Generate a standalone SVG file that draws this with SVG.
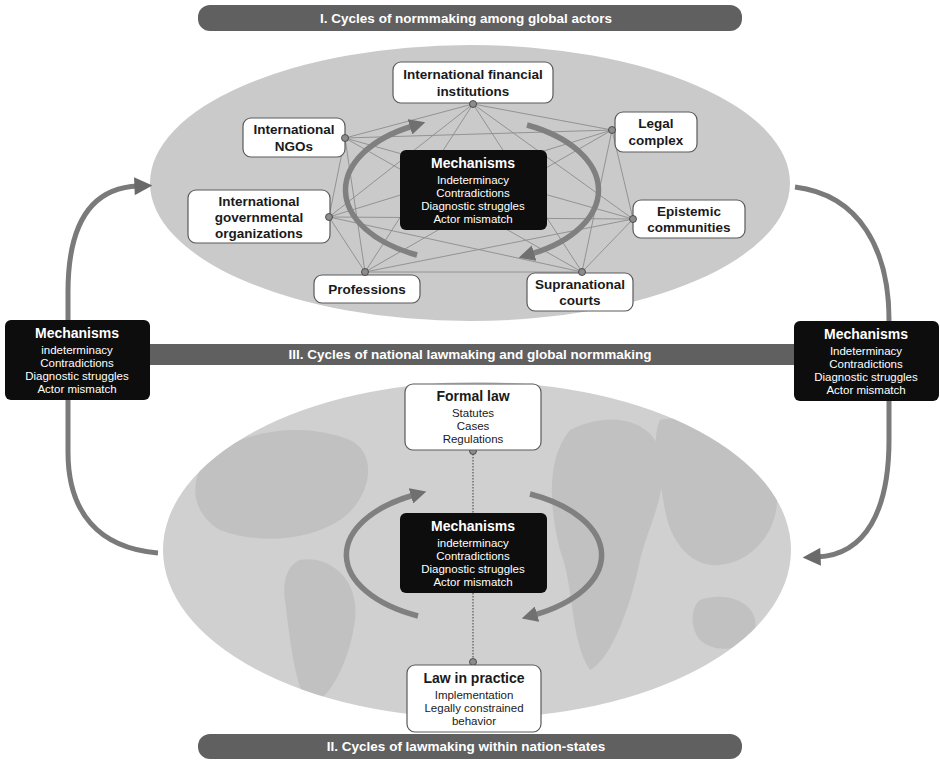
<svg xmlns="http://www.w3.org/2000/svg" width="940" height="764" viewBox="0 0 940 764">
<defs>
<style>
.t{font-family:"Liberation Sans",Arial,sans-serif;text-anchor:middle}
.nt{font-size:13.5px;font-weight:700;fill:#1a1a1a}
.ns{font-size:11.5px;fill:#1a1a1a}
.mt{font-size:14px;font-weight:700;fill:#fff}
.ms{font-size:11.5px;fill:#fff}
.bt{font-size:13.5px;font-weight:700;fill:#fff}
.box{fill:#fff;stroke:#5a5a5a;stroke-width:1.2}
.mech{fill:#0d0d0d}
.net line{stroke:#8c8c8c;stroke-width:0.9}
.ring{fill:none;stroke:#808080;stroke-width:5.5}
.big{fill:none;stroke:#7a7a7a;stroke-width:5}
.dot{fill:#8c8c8c;stroke:#3a3a3a;stroke-width:0.8}
.dash{stroke:#555;stroke-width:1.2;stroke-dasharray:1.5 1.5}
.ban{fill:#606060}
</style>
<marker id="ah" viewBox="0 0 10 10" refX="2" refY="5" markerWidth="16" markerHeight="16" markerUnits="userSpaceOnUse" orient="auto"><path d="M0,0 L10,5 L0,10 z" fill="#707070"/></marker>
<marker id="ahb" viewBox="0 0 10 10" refX="2" refY="5" markerWidth="20" markerHeight="18" markerUnits="userSpaceOnUse" orient="auto"><path d="M0,0 L10,5 L0,10 z" fill="#6a6a6a"/></marker>
<clipPath id="cb"><ellipse cx="477" cy="550" rx="314" ry="168"/></clipPath>
</defs>

<!-- backgrounds -->
<ellipse id="globalEllipse" cx="470" cy="183" rx="320" ry="138" fill="#cacaca"/>
<g id="nationalEllipse">
<ellipse cx="477" cy="550" rx="314" ry="168" fill="#d0d0d0"/>
<g clip-path="url(#cb)" fill="#b0b0b0" opacity="0.45">
<path d="M200,470 C230,430 300,420 350,440 C380,455 370,500 340,520 C310,540 260,545 220,530 C195,515 190,490 200,470 z"/>
<path d="M300,560 C330,555 360,580 355,620 C350,660 330,700 310,705 C295,690 290,640 285,600 C282,580 288,565 300,560 z"/>
<path d="M570,430 C610,410 650,420 660,450 C670,490 650,520 640,560 C630,610 610,660 590,670 C570,640 575,590 560,550 C550,510 545,460 570,430 z"/>
<path d="M660,420 C710,410 760,440 775,480 C785,520 760,560 720,565 C690,568 670,540 665,510 C660,480 650,440 660,420 z"/>
<path d="M700,600 C730,590 760,605 755,630 C750,650 715,655 700,640 C690,628 690,608 700,600 z"/>
</g>
</g>

<!-- banners -->
<g id="bannerI">
<rect class="ban" x="198" y="5" width="544" height="26" rx="12"/>
<text class="t bt" x="466" y="23">I. Cycles of normmaking among global actors</text>
</g>
<g id="bannerIII">
<rect class="ban" x="150" y="344" width="645" height="21"/>
<text class="t bt" x="470" y="359">III. Cycles of national lawmaking and global normmaking</text>
</g>
<g id="bannerII">
<rect class="ban" x="198" y="734" width="544" height="25" rx="12"/>
<text class="t bt" x="466" y="751">II. Cycles of lawmaking within nation-states</text>
</g>

<!-- connectors -->
<g id="connectors">
<g class="net">
<line x1="473" y1="104" x2="345" y2="138"/>
<line x1="473" y1="104" x2="612" y2="130"/>
<line x1="473" y1="104" x2="329" y2="217"/>
<line x1="473" y1="104" x2="633" y2="219"/>
<line x1="473" y1="104" x2="365" y2="272"/>
<line x1="473" y1="104" x2="582" y2="272"/>
<line x1="345" y1="138" x2="612" y2="130"/>
<line x1="345" y1="138" x2="329" y2="217"/>
<line x1="345" y1="138" x2="633" y2="219"/>
<line x1="345" y1="138" x2="365" y2="272"/>
<line x1="345" y1="138" x2="582" y2="272"/>
<line x1="612" y1="130" x2="329" y2="217"/>
<line x1="612" y1="130" x2="633" y2="219"/>
<line x1="612" y1="130" x2="365" y2="272"/>
<line x1="612" y1="130" x2="582" y2="272"/>
<line x1="329" y1="217" x2="633" y2="219"/>
<line x1="329" y1="217" x2="365" y2="272"/>
<line x1="329" y1="217" x2="582" y2="272"/>
<line x1="633" y1="219" x2="365" y2="272"/>
<line x1="633" y1="219" x2="582" y2="272"/>
<line x1="365" y1="272" x2="582" y2="272"/>
</g>
<path class="ring" d="M417,255 A125,72 0 0 1 413,126" marker-end="url(#ah)"/>
<path class="ring" d="M527,125 A125,72 0 0 1 531,254" marker-end="url(#ah)"/>
<path class="ring" d="M418,616 A128,68 0 0 1 414,495" marker-end="url(#ah)"/>
<path class="ring" d="M530,494 A128,68 0 0 1 534,615" marker-end="url(#ah)"/>
<line class="dash" x1="473" y1="451" x2="473" y2="513"/>
<line class="dash" x1="473" y1="593" x2="473" y2="662"/>
<path class="big" d="M158,553 C98,548 68,512 68,452 L68,292 C68,226 90,188 138,186" marker-end="url(#ahb)"/>
<path class="big" d="M795,187 C860,195 889,250 889,320 L889,440 C889,510 866,555 817,557" marker-end="url(#ahb)"/>
</g>

<!-- global actor nodes -->
<g id="ifi">
<rect class="box" x="393" y="62" width="160" height="41" rx="8"/>
<text class="t nt" x="473" y="79">International financial</text>
<text class="t nt" x="473" y="96">institutions</text>
</g>
<g id="ngos">
<rect class="box" x="243" y="118" width="102" height="39" rx="8"/>
<text class="t nt" x="294" y="134">International</text>
<text class="t nt" x="294" y="151">NGOs</text>
</g>
<g id="legal">
<rect class="box" x="615" y="112" width="82" height="40" rx="8"/>
<text class="t nt" x="656" y="128">Legal</text>
<text class="t nt" x="656" y="145">complex</text>
</g>
<g id="igo">
<rect class="box" x="188" y="190" width="142" height="53" rx="8"/>
<text class="t nt" x="259" y="206">International</text>
<text class="t nt" x="259" y="222">governmental</text>
<text class="t nt" x="259" y="238">organizations</text>
</g>
<g id="epistemic">
<rect class="box" x="633" y="200" width="112" height="38" rx="8"/>
<text class="t nt" x="689" y="216">Epistemic</text>
<text class="t nt" x="689" y="232">communities</text>
</g>
<g id="professions">
<rect class="box" x="314" y="275" width="106" height="28" rx="8"/>
<text class="t nt" x="367" y="294">Professions</text>
</g>
<g id="supranational">
<rect class="box" x="527" y="273" width="106" height="38" rx="8"/>
<text class="t nt" x="580" y="289">Supranational</text>
<text class="t nt" x="580" y="305">courts</text>
</g>
<g id="mechGlobal">
<rect class="mech" x="400" y="150" width="147" height="80" rx="6"/>
<text class="t mt" x="473" y="168">Mechanisms</text>
<text class="t ms" x="473" y="184">Indeterminacy</text>
<text class="t ms" x="473" y="197">Contradictions</text>
<text class="t ms" x="473" y="210">Diagnostic struggles</text>
<text class="t ms" x="473" y="223">Actor mismatch</text>
</g>
<g id="dots">
<circle class="dot" cx="473" cy="104" r="3.5"/>
<circle class="dot" cx="345" cy="138" r="3.5"/>
<circle class="dot" cx="612" cy="130" r="3.5"/>
<circle class="dot" cx="329" cy="217" r="3.5"/>
<circle class="dot" cx="633" cy="219" r="3.5"/>
<circle class="dot" cx="365" cy="272" r="3.5"/>
<circle class="dot" cx="582" cy="272" r="3.5"/>
<circle class="dot" cx="473" cy="451" r="3.5"/>
<circle class="dot" cx="473" cy="662" r="3.5"/>
</g>

<!-- side mechanisms -->
<g id="mechLeft">
<rect class="mech" x="5" y="320" width="145" height="80" rx="6"/>
<text class="t mt" x="77" y="338">Mechanisms</text>
<text class="t ms" x="77" y="354">indeterminacy</text>
<text class="t ms" x="77" y="367">Contradictions</text>
<text class="t ms" x="77" y="380">Diagnostic struggles</text>
<text class="t ms" x="77" y="393">Actor mismatch</text>
</g>
<g id="mechRight">
<rect class="mech" x="794" y="321" width="145" height="80" rx="6"/>
<text class="t mt" x="866" y="339">Mechanisms</text>
<text class="t ms" x="866" y="355">Indeterminacy</text>
<text class="t ms" x="866" y="368">Contradictions</text>
<text class="t ms" x="866" y="381">Diagnostic struggles</text>
<text class="t ms" x="866" y="394">Actor mismatch</text>
</g>

<!-- national nodes -->
<g id="formalLaw">
<rect class="box" x="405" y="384" width="136" height="66" rx="8"/>
<text class="t nt" x="473" y="401" style="font-size:14px">Formal law</text>
<text class="t ns" x="473" y="417">Statutes</text>
<text class="t ns" x="473" y="430">Cases</text>
<text class="t ns" x="473" y="443">Regulations</text>
</g>
<g id="mechNational">
<rect class="mech" x="400" y="513" width="147" height="80" rx="6"/>
<text class="t mt" x="473" y="531">Mechanisms</text>
<text class="t ms" x="473" y="547">indeterminacy</text>
<text class="t ms" x="473" y="560">Contradictions</text>
<text class="t ms" x="473" y="573">Diagnostic struggles</text>
<text class="t ms" x="473" y="586">Actor mismatch</text>
</g>
<g id="lawPractice">
<rect class="box" x="407" y="665" width="134" height="67" rx="8"/>
<text class="t nt" x="474" y="683" style="font-size:14px">Law in practice</text>
<text class="t ns" x="474" y="699">Implementation</text>
<text class="t ns" x="474" y="712">Legally constrained</text>
<text class="t ns" x="474" y="725">behavior</text>
</g>
</svg>
